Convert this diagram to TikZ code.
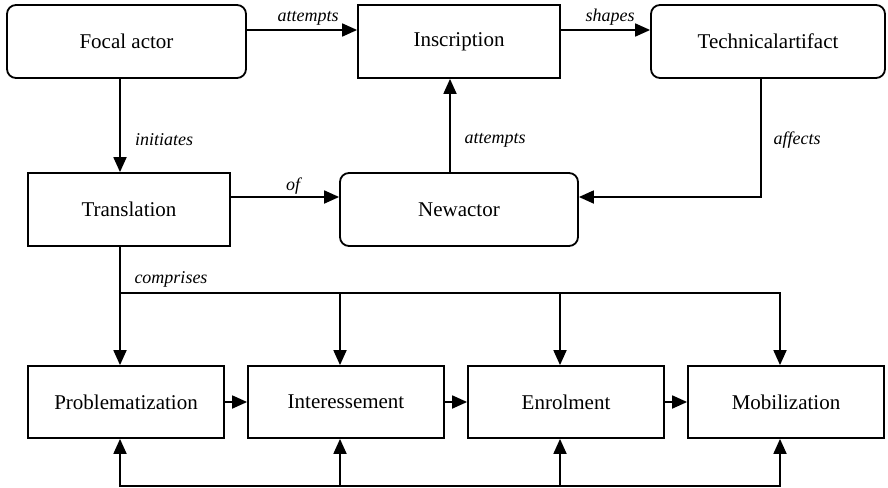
\documentclass[tikz,border=0pt]{standalone}
\usepackage{fontspec}
\setmainfont{Liberation Serif}
\newfontfamily\boxfont{Liberation Serif}
\usetikzlibrary{arrows.meta}
\begin{document}
\begin{tikzpicture}[x=1pt,y=-1pt,
  box/.style={draw, line width=1.8pt, minimum width=#1, minimum height=73pt,
    inner sep=0pt, font=\boxfont\fontsize{21}{25}\selectfont},
  rbox/.style={box=#1, rounded corners=9pt},
  lowbox/.style={box=#1, minimum height=72pt},
  arr/.style={line width=1.8pt, -{Triangle[length=15pt,width=13pt]}},
  lbl/.style={font=\boxfont\itshape\fontsize{18}{22}\selectfont, inner sep=0pt}]
\useasboundingbox (0,0) rectangle (888,487);

% top row
\node[rbox=239pt] (foc) at (126.5,41.5) {Focal actor};
\node[box=202pt] (ins) at (459,41.5) {Inscription};
\node[rbox=234pt] (tech) at (768,41.5) {Technicalartifact};

% middle row
\node[box=202pt] (tr) at (129,209.5) {Translation};
\node[rbox=238pt] (new) at (459,209.5) {Newactor};

% bottom row: the four moments of translation
\node[lowbox=196pt] (prob) at (126,402) {Problematization};
\node[lowbox=196pt] (int) at (346,402) {Interessement};
\node[lowbox=196pt] (enr) at (566,402) {Enrolment};
\node[lowbox=196pt] (mob) at (786,402) {Mobilization};

% routing points
\coordinate (ya) at (0,30);
\coordinate (xn) at (450,0);
\coordinate (t1) at (761,197);
\coordinate (c1) at (120,293);
\coordinate (c2) at (340,293);
\coordinate (c3) at (560,293);
\coordinate (c4) at (780,293);
\coordinate (b1) at (120,486);
\coordinate (b2) at (340,486);
\coordinate (b3) at (560,486);
\coordinate (b4) at (780,486);

% upper connectors
\draw[arr] (foc.east |- ya) -- (ins.west |- ya);
\draw[arr] (ins.east |- ya) -- (tech.west |- ya);
\draw[arr] (foc.south -| c1) -- (tr.north -| c1);
\draw[arr] (new.north -| xn) -- (ins.south -| xn);
\draw[arr] (tech.south -| t1) -- (t1) -- (new.east |- t1);
\draw[arr] (tr.east |- t1) -- (new.west |- t1);

% comprises bus
\draw[arr] (tr.south -| c1) -- (prob.north -| c1);
\draw[arr] (c1) -- (c4) -- (mob.north -| c4);
\draw[arr] (c2) -- (int.north -| c2);
\draw[arr] (c3) -- (enr.north -| c3);

% sequence
\draw[arr] (prob) -- (int);
\draw[arr] (int) -- (enr);
\draw[arr] (enr) -- (mob);

% feedback bus
\draw[arr] (b4) -- (b1) -- (prob.south -| b1);
\draw[arr] (b1) -- (b4) -- (mob.south -| b4);
\draw[arr] (b2) -- (int.south -| b2);
\draw[arr] (b3) -- (enr.south -| b3);

% labels
\node[lbl] (l1) at (308,18) {attempts};
\node[lbl] (l2) at (610,17) {shapes};
\node[lbl] (l3) at (164,140) {initiates};
\node[lbl] (l4) at (293,186) {of};
\node[lbl] (l5) at (495,140) {attempts};
\node[lbl] (l6) at (797,140) {affects};
\node[lbl] (l7) at (171,279) {comprises};
\end{tikzpicture}
\end{document}
